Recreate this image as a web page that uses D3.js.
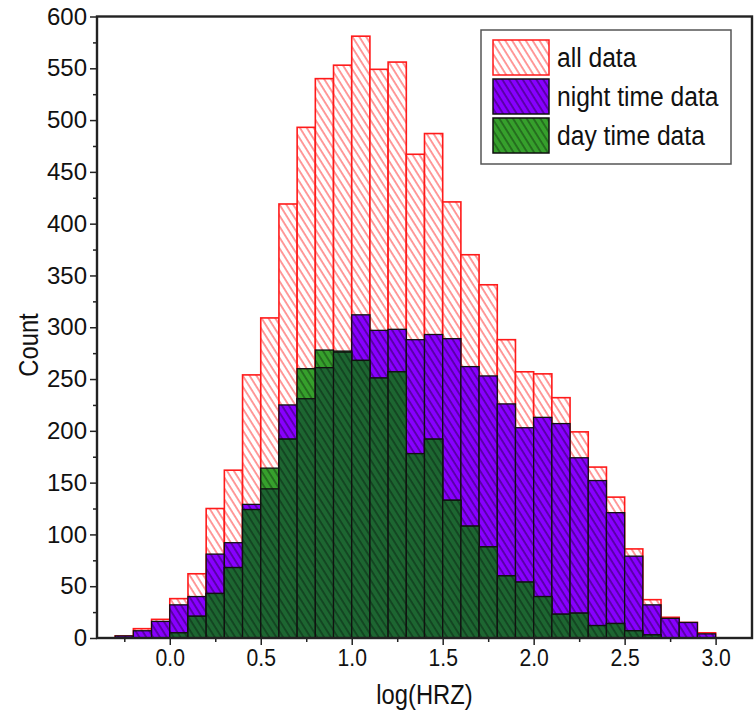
<meta charset="utf-8">
<script src="https://cdn.jsdelivr.net/npm/d3@7"></script>
<style>
body { margin:0; background:white; overflow:hidden; }
text { font-family: "Liberation Sans", Arial, sans-serif; fill:#111; }
</style>
<body>
<svg id="chart" width="755" height="718"></svg>
<script>
// bin left edges, width 0.1
var binStarts = [-0.3,-0.2,-0.1,0.0,0.1,0.2,0.3,0.4,0.5,0.6,0.7,0.8,0.9,1.0,1.1,1.2,1.3,1.4,1.5,1.6,1.7,1.8,1.9,2.0,2.1,2.2,2.3,2.4,2.5,2.6,2.7,2.8,2.9];
var allData   = [2,9,18,38,62,125,162,254,309,419,493,540,553,581,549,556,467,487,421,370,341,288,257,255,232,199,165,136,86,37,20,15,5];
var nightData = [2,7,16,32,40,81,92,129,144,225,231,261,276,312,297,298,288,293,289,262,253,226,203,213,207,174,152,121,79,32,19,15,4];
var dayData   = [0,0,0,5,21,43,68,124,164,192,260,278,277,268,251,257,178,192,133,108,88,60,54,40,23,24,12,14,7,3,0,0,0];
var binWidth = 0.1;

var xTicks = [0, 0.5, 1.0, 1.5, 2.0, 2.5, 3.0];
var xMinor = [-0.25, 0.25, 0.75, 1.25, 1.75, 2.25, 2.75];
var yTicks = d3.range(0, 601, 50);
var yMinor = d3.range(25, 600, 50);
var legendLabels = ["all data", "night time data", "day time data"];

var pLeft = 97, pRight = 752, pTop = 16.5, pBottom = 638;

var svg = d3.select('#chart');
var x = d3.scaleLinear().domain([-0.4, 3.2]).range([pLeft, pRight]);
var y = d3.scaleLinear().domain([0, 600]).range([pBottom, pTop]);

// hatch patterns
var defs = svg.append('defs');
function hatch(id, bg, lineColor, lineOpacity, lw) {
  var p = defs.append('pattern')
    .attr('id', id)
    .attr('patternUnits', 'userSpaceOnUse')
    .attr('width', 5.8).attr('height', 10)
    .attr('patternTransform', 'rotate(-32)');
  p.append('rect').attr('width', 5.8).attr('height', 10).attr('fill', bg);
  p.append('line').attr('x1', 1).attr('x2', 1).attr('y1', 0).attr('y2', 10)
    .attr('stroke', lineColor).attr('stroke-width', lw).attr('stroke-opacity', lineOpacity);
}
hatch('hRed', '#ffffff', '#ff2020', 0.9, 1);
hatch('hPurple', '#8800ff', '#000000', 0.6, 1.1);
hatch('hGreen', '#36a02c', '#000000', 0.55, 1.1);
hatch('hDark', '#1d6631', '#000000', 0.55, 1.1);

var bins = binStarts.map(function(b, i) {
  return {x0: b, x1: b + binWidth, all: allData[i], night: nightData[i], day: dayData[i]};
});

var plot = svg.append('g');

plot.selectAll('rect.all').data(bins).enter().append('rect')
  .attr('class', 'all')
  .attr('x', function(d) { return x(d.x0); })
  .attr('width', function(d) { return x(d.x1) - x(d.x0); })
  .attr('y', function(d) { return y(d.all); })
  .attr('height', function(d) { return y(0) - y(d.all); })
  .attr('fill', 'url(#hRed)')
  .attr('stroke', '#ff1a1a').attr('stroke-width', 1.6);

plot.selectAll('rect.night').data(bins.filter(function(d) { return d.night > 0; })).enter().append('rect')
  .attr('class', 'night')
  .attr('x', function(d) { return x(d.x0); })
  .attr('width', function(d) { return x(d.x1) - x(d.x0); })
  .attr('y', function(d) { return y(d.night); })
  .attr('height', function(d) { return y(0) - y(d.night); })
  .attr('fill', 'url(#hPurple)')
  .attr('stroke', '#111').attr('stroke-width', 1.3);

plot.selectAll('rect.day').data(bins.filter(function(d) { return d.day > 0; })).enter().append('rect')
  .attr('class', 'day')
  .attr('x', function(d) { return x(d.x0); })
  .attr('width', function(d) { return x(d.x1) - x(d.x0); })
  .attr('y', function(d) { return y(d.day); })
  .attr('height', function(d) { return y(0) - y(d.day); })
  .attr('fill', 'url(#hGreen)')
  .attr('stroke', '#111').attr('stroke-width', 1.3);

// where day and night overlap the green reads darker
plot.selectAll('rect.overlap').data(bins.filter(function(d) { return Math.min(d.day, d.night) > 0; })).enter().append('rect')
  .attr('class', 'overlap')
  .attr('x', function(d) { return x(d.x0); })
  .attr('width', function(d) { return x(d.x1) - x(d.x0); })
  .attr('y', function(d) { return y(Math.min(d.day, d.night)); })
  .attr('height', function(d) { return y(0) - y(Math.min(d.day, d.night)); })
  .attr('fill', 'url(#hDark)')
  .attr('stroke', '#111').attr('stroke-width', 1.3);

// axes
var axisColor = '#222';
var xAxis = svg.append('g').attr('transform', 'translate(0,' + pBottom + ')')
  .call(d3.axisBottom(x).tickValues(xTicks).tickFormat(d3.format('.1f')).tickSize(7).tickPadding(5));
svg.append('g').attr('transform', 'translate(0,' + pBottom + ')')
  .call(d3.axisBottom(x).tickValues(xMinor).tickFormat('').tickSize(4));
var yAxis = svg.append('g').attr('transform', 'translate(' + pLeft + ',0)')
  .call(d3.axisLeft(y).tickValues(yTicks).tickSize(7).tickPadding(3));
svg.append('g').attr('transform', 'translate(' + pLeft + ',0)')
  .call(d3.axisLeft(y).tickValues(yMinor).tickFormat('').tickSize(4));

svg.selectAll('.domain').remove();
svg.selectAll('.tick line').attr('stroke', axisColor).attr('stroke-width', 1.5);
svg.selectAll('.tick text').attr('fill', '#111')
  .attr('font-family', '"Liberation Sans", Arial, sans-serif');
xAxis.selectAll('.tick text').attr('font-size', 23).attr('transform', 'scale(0.92,1)');
yAxis.selectAll('.tick text').attr('font-size', 24);

// frame
svg.append('rect')
  .attr('x', pLeft).attr('y', pTop)
  .attr('width', pRight - pLeft).attr('height', pBottom - pTop)
  .attr('fill', 'none').attr('stroke', axisColor).attr('stroke-width', 2.4);

// axis titles
svg.append('text')
  .attr('transform', 'translate(' + (pLeft + pRight) / 2 + ',704) scale(0.88,1)')
  .attr('text-anchor', 'middle').attr('font-size', 27)
  .text('log(HRZ)');
svg.append('text')
  .attr('transform', 'translate(38,345) rotate(-90) scale(0.88,1)')
  .attr('text-anchor', 'middle').attr('font-size', 27)
  .text('Count');

// legend
var legend = svg.append('g');
legend.append('rect')
  .attr('x', 481).attr('y', 30).attr('width', 250).attr('height', 134)
  .attr('fill', 'white').attr('stroke', '#555').attr('stroke-width', 1.5);
var swatchFill = ['url(#hRed)', 'url(#hPurple)', 'url(#hGreen)'];
var swatchStroke = ['#ff1a1a', '#111', '#111'];
legendLabels.forEach(function(lab, i) {
  var yy = 40 + i * 39;
  legend.append('rect')
    .attr('x', 493).attr('y', yy).attr('width', 56).attr('height', 35)
    .attr('fill', swatchFill[i]).attr('stroke', swatchStroke[i]).attr('stroke-width', 1.5);
  legend.append('text')
    .attr('transform', 'translate(557,' + (yy + 27) + ') scale(0.88,1)')
    .attr('font-size', 28)
    .text(lab);
});
</script>
</body>
